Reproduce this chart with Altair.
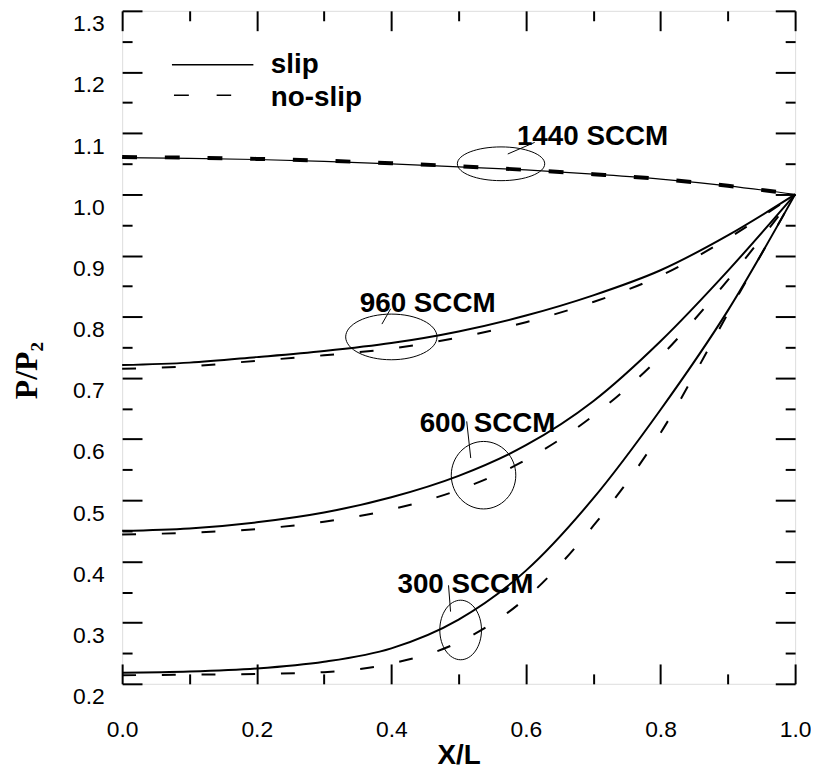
import altair as alt
import pandas as pd

# ---------------- data ----------------
x_vals = [0.0, 0.1, 0.2, 0.3, 0.4, 0.5, 0.6, 0.7, 0.8, 0.9, 1.0]

slip_1440 = [1.060, 1.059, 1.057, 1.054, 1.050, 1.045, 1.040, 1.033, 1.025, 1.014, 1.000]
noslip_1440 = [1.061, 1.060, 1.058, 1.055, 1.051, 1.046, 1.040, 1.033, 1.025, 1.014, 1.000]
slip_960 = [0.721, 0.725, 0.734, 0.744, 0.757, 0.776, 0.802, 0.835, 0.876, 0.933, 1.000]
noslip_960 = [0.715, 0.719, 0.728, 0.737, 0.748, 0.766, 0.791, 0.824, 0.867, 0.928, 1.000]
slip_600 = [0.450, 0.454, 0.464, 0.480, 0.505, 0.540, 0.590, 0.662, 0.760, 0.875, 1.000]
noslip_600 = [0.444, 0.447, 0.453, 0.465, 0.485, 0.517, 0.566, 0.638, 0.735, 0.860, 1.000]
slip_300 = [0.218, 0.220, 0.225, 0.236, 0.258, 0.305, 0.385, 0.503, 0.648, 0.810, 1.000]
noslip_300 = [0.214, 0.215, 0.216, 0.219, 0.233, 0.268, 0.340, 0.458, 0.610, 0.805, 1.000]

x_major = [0.0, 0.2, 0.4, 0.6, 0.8, 1.0]
x_minor = [0.1, 0.3, 0.5, 0.7, 0.9]
y_major = [0.2, 0.3, 0.4, 0.5, 0.6, 0.7, 0.8, 0.9, 1.0, 1.1, 1.2, 1.3]
y_minor = [0.25, 0.35, 0.45, 0.55, 0.65, 0.75, 0.85, 0.95, 1.05, 1.15, 1.25]

annot_text = ["1440 SCCM", "960 SCCM", "600 SCCM", "300 SCCM"]
annot_tx = [0.699, 0.454, 0.543, 0.510]
annot_ty = [1.094, 0.821, 0.625, 0.362]
ell_cx = [0.563, 0.400, 0.537, 0.503]
ell_cy = [1.050, 0.767, 0.541, 0.288]
ell_rx = [44, 46, 32.5, 21]
ell_ry = [17, 23, 34, 30]
lead_x1 = [0.573, 0.386, 0.518, 0.488]
lead_y1 = [1.066, 0.788, 0.569, 0.318]
lead_x2 = [0.613, 0.399, 0.512, 0.485]
lead_y2 = [1.085, 0.813, 0.629, 0.361]

legend_labels = ["slip", "no-slip"]

# ---------------- build tables ----------------
series = {
    ("1440", "slip"): slip_1440, ("1440", "no-slip"): noslip_1440,
    ("960", "slip"): slip_960, ("960", "no-slip"): noslip_960,
    ("600", "slip"): slip_600, ("600", "no-slip"): noslip_600,
    ("300", "slip"): slip_300, ("300", "no-slip"): noslip_300,
}
rows = []
for (flow, model), vals in series.items():
    for xv, pv in zip(x_vals, vals):
        rows.append({"x": xv, "P": pv, "flow": flow, "model": model})
df = pd.DataFrame(rows)

W = 678
H = 678
xscale = alt.Scale(domain=[0, 1], nice=False, zero=False)
yscale = alt.Scale(domain=[0.2, 1.3], nice=False, zero=False)

def X(axis=None, field="x"):
    return alt.X(f"{field}:Q", scale=xscale, axis=axis)

def Y(axis=None, field="P"):
    return alt.Y(f"{field}:Q", scale=yscale, axis=axis)

tick_common = dict(labels=False, domain=False, grid=False, title=None,
                   ticks=True, tickColor="black", tickWidth=2)

ax_bottom = alt.Axis(orient="bottom", values=x_major, format=".1f", ticks=False,
                     domain=False, grid=False, title="X/L", labelFont="Liberation Sans",
                     labelFontSize=23, labelColor="black", labelPadding=35,
                     labelFlush=False, labelOverlap=False,
                     titleFont="Liberation Sans", titleFontSize=28, titleFontWeight="bold",
                     titleColor="black", titleBaseline="alphabetic", titleY=80)
ax_left = alt.Axis(orient="left", values=y_major, format=".1f", ticks=False,
                   domain=False, grid=False, title="P/P₂", labelFont="Liberation Sans",
                   labelFontSize=23, labelColor="black", labelPadding=18,
                   labelAlign="right", labelBaseline="middle", labelOffset=13,
                   labelFlush=False, labelOverlap=False,
                   titleFont="Liberation Serif", titleFontSize=32, titleFontWeight="bold",
                   titleColor="black", titleAngle=270, titleX=-96, titleY=362,
                   titleAlign="center", titleBaseline="middle")

axis_pairs = [
    (ax_bottom, ax_left),
    (alt.Axis(orient="top", offset=-H, values=x_major, tickSize=20, **tick_common),
     alt.Axis(orient="right", offset=-W, values=y_major, tickSize=20, **tick_common)),
    (alt.Axis(orient="top", offset=-H, values=x_minor, tickSize=10, **tick_common),
     alt.Axis(orient="right", offset=-W, values=y_minor, tickSize=10, **tick_common)),
    (alt.Axis(orient="bottom", offset=-H, values=x_major, tickSize=20, **tick_common),
     alt.Axis(orient="left", offset=-W, values=y_major, tickSize=20, **tick_common)),
    (alt.Axis(orient="bottom", offset=-H, values=x_minor, tickSize=10, **tick_common),
     alt.Axis(orient="left", offset=-W, values=y_minor, tickSize=10, **tick_common)),
]

layers = []
for xa, ya in axis_pairs:
    layers.append(alt.Chart(df).mark_point(opacity=0, size=1).encode(x=X(xa), y=Y(ya)))

main = df[df.flow != "1440"]
big = df[df.flow == "1440"]

layers.append(alt.Chart(main[main.model == "slip"]).mark_line(
    color="black", strokeWidth=2, interpolate="monotone").encode(x=X(), y=Y(), detail="flow:N"))
layers.append(alt.Chart(main[main.model == "no-slip"]).mark_line(
    color="black", strokeWidth=2, strokeDash=[14, 26], interpolate="monotone").encode(
    x=X(), y=Y(), detail="flow:N"))
layers.append(alt.Chart(big[big.model == "slip"]).mark_line(
    color="black", strokeWidth=1.2, interpolate="monotone").encode(x=X(), y=Y()))
layers.append(alt.Chart(big[big.model == "no-slip"]).mark_line(
    color="black", strokeWidth=4, strokeDash=[15, 28], interpolate="monotone").encode(x=X(), y=Y()))

# annotations
def ellipse_path(rx, ry):
    r = max(rx, ry)
    a, b, k = rx / r, ry / r, 0.5523
    f = lambda v: f"{v:.4f}"
    return (f"M{f(a)},0 C{f(a)},{f(k*b)} {f(k*a)},{f(b)} 0,{f(b)} "
            f"C{f(-k*a)},{f(b)} {f(-a)},{f(k*b)} {f(-a)},0 "
            f"C{f(-a)},{f(-k*b)} {f(-k*a)},{f(-b)} 0,{f(-b)} "
            f"C{f(k*a)},{f(-b)} {f(a)},{f(-k*b)} {f(a)},0 Z"), (2 * r) ** 2

for i in range(len(annot_text)):
    path, size = ellipse_path(ell_rx[i], ell_ry[i])
    layers.append(alt.Chart(pd.DataFrame({"x": [ell_cx[i]], "P": [ell_cy[i]]})).mark_point(
        shape=path, size=size, filled=False, stroke="black", strokeWidth=1, opacity=1
    ).encode(x=X(), y=Y()))

ann_df = pd.DataFrame({"label": annot_text, "x": annot_tx, "P": annot_ty,
                       "x1": lead_x1, "y1": lead_y1, "x2": lead_x2, "y2": lead_y2})
layers.append(alt.Chart(ann_df).mark_rule(color="black", strokeWidth=1).encode(
    x=X(field="x1"), y=Y(field="y1"), x2="x2:Q", y2="y2:Q"))
layers.append(alt.Chart(ann_df).mark_text(
    font="Liberation Sans", fontWeight="bold", fontSize=28, align="center",
    baseline="middle", color="black").encode(x=X(), y=Y(), text="label:N"))

# legend
leg_df = pd.DataFrame({"label": legend_labels, "x": [0.074, 0.077], "x2": [0.195, 0.162],
                       "P": [1.212, 1.162], "tx": [0.221, 0.221], "ty": [1.212, 1.157]})
layers.append(alt.Chart(leg_df[leg_df.label == "slip"]).mark_rule(
    color="black", strokeWidth=1.5).encode(x=X(), x2="x2:Q", y=Y()))
layers.append(alt.Chart(leg_df[leg_df.label == "no-slip"]).mark_rule(
    color="black", strokeWidth=1.5, strokeDash=[15, 28]).encode(x=X(), x2="x2:Q", y=Y()))
layers.append(alt.Chart(leg_df).mark_text(
    font="Liberation Sans", fontWeight="bold", fontSize=28, align="left",
    baseline="middle", color="black").encode(x=X(field="tx"), y=Y(field="ty"), text="label:N"))

chart = alt.layer(*layers).resolve_axis(x="independent", y="independent").properties(
    width=W, height=H, autosize="none",
    padding={"left": 115, "top": 0, "right": 16, "bottom": 88},
).configure_view(stroke="black", strokeWidth=2).configure(background="white")

chart.save("out.html", embed_options={"renderer": "svg", "actions": False})
